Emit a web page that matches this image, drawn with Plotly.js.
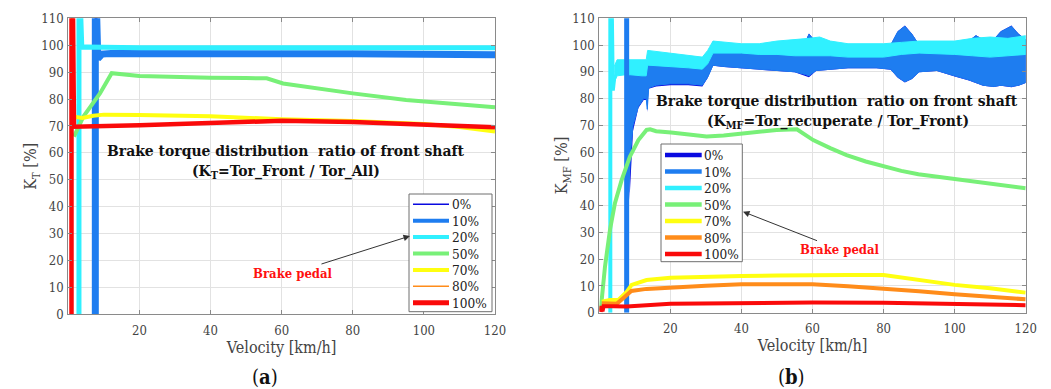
<!DOCTYPE html>
<html><head><meta charset="utf-8">
<script src="https://cdn.plot.ly/plotly-3.0.1.min.js"></script>
<style>html,body{margin:0;padding:0;background:#fff;overflow:hidden}#chart{width:1051px;height:389px}</style>
</head><body><div id="chart"></div>
<script>
// ---------- labels ----------
const pedalLabels = ['0%','10%','20%','50%','70%','80%','100%'];
const xTicks = [20,40,60,80,100,120];
const yTicks = [0,10,20,30,40,50,60,70,80,90,100,110];

// ---------- (a) K_T : front shaft ratio ----------
const a0_x   = [7.6, 7.6, 7.9, 8.3, 9.5, 12, 20, 40, 60, 80, 100, 110, 120];
const a0_y   = [0, 115, 115, 95, 96.7, 96.9, 96.8, 96.8, 96.8, 96.8, 96.7, 96.6, 96.5];
const a10_x  = [7.6, 7.6, 7.9, 8.3, 9.5, 12, 20, 40, 60, 80, 100, 110, 120];
const a10_y  = [0, 115, 115, 95, 96.7, 96.9, 96.8, 96.8, 96.8, 96.8, 96.7, 96.6, 96.5];
const a20_x  = [3.0, 3.0, 3.4, 3.8, 5, 10, 20, 40, 60, 80, 100, 120];
const a20_y  = [0, 115, 115, 99.2, 99.3, 99.2, 99.1, 99.1, 99.1, 99.1, 99.1, 99.1];
const a50_x  = [1.6, 4.2, 8.9, 12.2, 20, 30, 40, 50, 55.8, 60.4, 69.8, 80, 95, 105, 120];
const a50_y  = [66, 73.4, 82.1, 89.6, 88.6, 88.2, 87.9, 87.8, 87.7, 85.8, 84, 82.1, 79.6, 78.5, 76.9];
const a70_x  = [1.6, 4, 7, 10, 20, 40, 60, 80, 100, 110, 120];
const a70_y  = [73.4, 73.0, 73.8, 74.2, 74.1, 73.6, 72.5, 71.8, 70.7, 69.6, 67.9];
const a80_x  = [0.9, 0.9, 1.3, 1.6, 20, 40, 60, 80, 100, 120];
const a80_y  = [0, 115, 115, 69.7, 70.3, 71.2, 71.9, 71.5, 70.7, 69.5];
const a100_x = [0.9, 0.9, 1.3, 1.6, 20, 40, 60, 80, 100, 120];
const a100_y = [0, 115, 115, 69.7, 70.3, 71.2, 71.9, 71.5, 70.7, 69.5];

// ---------- (b) K_MF : recuperation ratio on front shaft ----------
// noisy bands: lower / upper envelope
const b0_x  = [8.5, 9, 9.5, 11, 12.5, 13.3, 13.5, 13.9, 16, 20, 25, 29, 30.5, 32, 35, 40, 45, 50, 55, 58, 59, 61, 65, 70, 78, 82, 84, 86, 88, 90, 95, 100, 104, 106, 108, 111, 113, 116, 118, 120];
const b0_lo = [42, 55, 68, 76.5, 79.5, 79.5, 75, 83.7, 84.5, 85, 85, 84.5, 87.7, 92.3, 91.8, 91.1, 90.8, 90.3, 89.8, 88.5, 88, 90.3, 90.8, 91.3, 91.3, 90.8, 87.8, 86, 87.3, 89.8, 90.3, 88.3, 86.8, 85.8, 84.8, 84.3, 84.8, 84.2, 84.8, 85.8];
const b0_hi = [88.2, 90.2, 91.2, 91.2, 92.2, 92.7, 93.2, 94.2, 94.2, 94.2, 93.7, 93.2, 96.2, 101.5, 99.7, 99.2, 99.2, 99.7, 100.2, 101.5, 104.3, 101.2, 99.7, 99.2, 99.2, 100.2, 105.2, 107.3, 104.2, 100.2, 100.2, 100.7, 101.7, 103.7, 102.2, 102.2, 105.2, 107.3, 104.2, 102.2];
const b10_x  = [8.3, 8.8, 9.5, 11, 12.5, 13.2, 13.5, 13.9, 16, 20, 25, 29, 30.5, 32, 35, 40, 45, 50, 55, 58, 59, 61, 65, 70, 78, 82, 84, 86, 88, 90, 95, 100, 104, 106, 108, 111, 113, 116, 118, 120];
const b10_lo = [45, 60, 70, 77, 80, 80, 76, 84, 85, 85.5, 85.5, 85, 88, 92.5, 92, 91.3, 91, 90.5, 90, 89, 88.5, 90.5, 91, 91.5, 91.5, 91, 88, 86.3, 87.5, 90, 90.5, 88.5, 87, 86, 85, 84.5, 85, 84.5, 85, 86];
const b10_hi = [88, 90, 91, 91, 92, 92.5, 93, 94, 94, 94, 93.5, 93, 96, 100, 99.5, 99, 99, 99.5, 100, 101, 104, 101, 99.5, 99, 99, 100, 105, 107, 104, 100, 100, 100.5, 101.5, 103.5, 102, 102, 105, 107, 104, 102];
const b20_x  = [4.2, 5, 8, 12, 13.2, 13.6, 20, 25, 29, 30.5, 32, 40, 45, 50, 55, 59, 62, 65, 70, 80, 85, 90, 100, 105, 110, 115, 120];
const b20_lo = [86, 88.5, 89, 88.5, 88.5, 92.5, 92, 91.5, 91, 93, 97, 97, 96.5, 96.5, 96, 96, 96, 96, 95.5, 95.5, 96.5, 97, 96.5, 96, 95.5, 96, 96.5];
const b20_hi = [92, 94.5, 94.5, 94.5, 94.5, 98, 97, 96, 95.5, 98, 101.5, 100.5, 100.5, 101.5, 102, 102.5, 103, 101.5, 100.5, 100.5, 101, 101.5, 101.5, 102.5, 103, 102.5, 103.5];
// vertical start-up spikes
const b20s_x = [3.1, 3.1, 3.5, 3.8, 4.3];
const b20s_y = [0, 115, 115, 83, 89];
const b10s_x = [7.7, 7.7];
const b10s_y = [0, 115];
// smooth curves
const b50_x  = [0.4, 1.6, 3, 4.4, 6.3, 8.6, 11, 13.3, 14.3, 16, 20.2, 25, 30.2, 35, 40, 45, 49.9, 55.6, 60.2, 65, 69.6, 75, 80, 85, 89.8, 95, 100, 110, 120];
const b50_y  = [1, 17.2, 30.9, 40.9, 49.6, 58.3, 64.5, 68.3, 68.5, 67.8, 67.3, 66.5, 65.8, 66.2, 67, 67.6, 68.3, 68.5, 64.5, 61.5, 58.9, 56.5, 54.6, 53, 51.7, 50.8, 49.9, 48.4, 46.5];
const b70_x  = [0.7, 3, 5.3, 7.7, 9.1, 13.3, 20, 30, 40, 50, 60, 70, 80, 90, 100, 110, 120];
const b70_y  = [4.1, 4.7, 4.7, 7.8, 10.4, 12.2, 13.1, 13.5, 13.7, 13.9, 14.1, 14.1, 14.1, 12.2, 10.4, 9.1, 7.5];
const b80_x  = [0.7, 4.9, 7.2, 9, 13.3, 20, 30, 40, 50, 60, 70, 80, 90, 100, 110, 120];
const b80_y  = [3.5, 3.3, 6, 8.1, 8.9, 9.5, 10.1, 10.6, 10.6, 10.6, 9.9, 9.1, 8, 6.9, 5.9, 5];
const b100_x = [0.4, 0.6, 0.9, 1.2, 4, 7.7, 20, 40, 60, 80, 100, 120];
const b100_y = [0.3, 2.5, 0.5, 2.4, 2.4, 2.3, 3.3, 3.7, 3.8, 3.7, 3.3, 2.8];

// ---------- styling ----------
const colors = ['#0a0ae0','#1e7df0','#30f0ff','#78f078','#ffff10','#ff8c1a','#fa0a0a'];
const W = 1051, H = 389;
const FONT = 'DejaVu Serif Condensed, DejaVu Serif';
const px = v => v / W;
const py = v => 1 - v / H;

function line(x, y, c, w, xa, ya) {
  return {x, y, type:'scatter', mode:'lines', line:{color:c, width:w}, xaxis:xa, yaxis:ya, showlegend:false, hoverinfo:'skip'};
}
// closed polygon between lower and upper envelope
function band(x, lo, hi, c, w, xa, ya) {
  const bx = x.concat(x.slice().reverse());
  const by = hi.concat(lo.slice().reverse());
  return {x:bx, y:by, type:'scatter', mode:'lines', fill:'toself', fillcolor:c, line:{color:c, width:w},
    xaxis:xa, yaxis:ya, showlegend:false, hoverinfo:'skip'};
}

const traces = [
  line(a0_x, a0_y, colors[0], 1.5, 'x', 'y'),
  line(a10_x, a10_y, colors[1], 7, 'x', 'y'),
  line(a20_x, a20_y, colors[2], 5, 'x', 'y'),
  line(a50_x, a50_y, colors[3], 4, 'x', 'y'),
  line(a70_x, a70_y, colors[4], 4, 'x', 'y'),
  line(a80_x, a80_y, colors[5], 1.5, 'x', 'y'),
  line(a100_x, a100_y, colors[6], 4.5, 'x', 'y'),
  band(b0_x, b0_lo, b0_hi, colors[0], 0, 'x2', 'y2'),
  band(b10_x, b10_lo, b10_hi, colors[1], 1, 'x2', 'y2'),
  band(b20_x, b20_lo, b20_hi, colors[2], 1, 'x2', 'y2'),
  line(b20s_x, b20s_y, colors[2], 4, 'x2', 'y2'),
  line(b10s_x, b10s_y, colors[1], 5, 'x2', 'y2'),
  line(b50_x, b50_y, colors[3], 4, 'x2', 'y2'),
  line(b70_x, b70_y, colors[4], 4, 'x2', 'y2'),
  line(b80_x, b80_y, colors[5], 4, 'x2', 'y2'),
  line(b100_x, b100_y, colors[6], 4, 'x2', 'y2')
];

const tickFont = {family:FONT, size:13, color:'#444'};
const titleFont = {family:FONT, size:16, color:'#444'};
function xAxis(dom, anchor) {
  return {domain:dom, anchor, range:[0,120], tickvals:xTicks, showgrid:true, gridcolor:'#e2e2e2', gridwidth:1,
    showline:true, linecolor:'#8a8a8a', linewidth:1, mirror:'ticks', ticks:'inside', ticklen:4, tickcolor:'#8a8a8a',
    zeroline:false, tickfont:tickFont, ticklabelstandoff:4,
    title:{text:'Velocity [km/h]', font:titleFont, standoff:3}, fixedrange:true};
}
function yAxis(dom, anchor, t) {
  return {domain:dom, anchor, range:[0,110], tickvals:yTicks, showgrid:true, gridcolor:'#e2e2e2', gridwidth:1,
    showline:true, linecolor:'#8a8a8a', linewidth:1, mirror:'ticks', ticks:'inside', ticklen:4, tickcolor:'#8a8a8a',
    zeroline:false, tickfont:tickFont, ticklabelstandoff:1,
    title:{text:t, font:titleFont, standoff:0}, fixedrange:true};
}

// manual legends (line samples + text)
const legendWidthsA = [1.5, 4, 4, 4, 4, 1.5, 5];
const legendWidthsB = [4.5, 4.5, 4.5, 4.5, 4.5, 4.5, 4.5];
const shapes = [];
const annotations = [];
function addLegend(box, y0, step, lx0, lx1, tx, widths) {
  shapes.push({type:'rect', xref:'paper', yref:'paper', x0:px(box[0]), x1:px(box[2]), y0:py(box[1]), y1:py(box[3]),
    fillcolor:'#ffffff', line:{color:'#6e6e6e', width:1}, layer:'above'});
  pedalLabels.forEach((lab, i) => {
    const yc = y0 + i * step;
    shapes.push({type:'line', xref:'paper', yref:'paper', x0:px(lx0), x1:px(lx1), y0:py(yc), y1:py(yc),
      line:{color:colors[i], width:widths[i]}, layer:'above'});
    annotations.push({xref:'paper', yref:'paper', x:px(tx), y:py(yc), xanchor:'left', yanchor:'middle',
      text:lab, showarrow:false, font:{family:FONT, size:13.5, color:'#222'}});
  });
}
addLegend([409,194,492,311.7], 204.3, 16.4, 413, 449, 450, legendWidthsA);
addLegend([661,144,742.3,261.7], 155, 16.5, 665, 701.7, 702, legendWidthsB);

const boldFont = {family:FONT, size:15.5, color:'#111'};
const redFont = {family:FONT, size:13, color:'#ff1010'};
annotations.push(
  {xref:'paper', yref:'paper', x:px(286), y:py(151), xanchor:'center', yanchor:'middle', showarrow:false, font:boldFont,
   text:'<b>Brake torque distribution  ratio of front shaft</b>'},
  {xref:'paper', yref:'paper', x:px(286), y:py(172), xanchor:'center', yanchor:'middle', showarrow:false, font:boldFont,
   text:'<b>(K<sub>T</sub>=Tor_Front / Tor_All)</b>'},
  {xref:'paper', yref:'paper', x:px(837), y:py(100), xanchor:'center', yanchor:'middle', showarrow:false, font:boldFont,
   text:'<b>Brake torque distribution  ratio on front shaft</b>'},
  {xref:'paper', yref:'paper', x:px(837.5), y:py(121), xanchor:'center', yanchor:'middle', showarrow:false, font:boldFont,
   text:'<b>(K<sub>MF</sub>=Tor_recuperate / Tor_Front)</b>'},
  {xref:'paper', yref:'paper', x:px(410), y:py(236), ax:-117, ay:37, showarrow:true, arrowhead:2, arrowsize:1.3, arrowwidth:1,
   arrowcolor:'#333', text:'<b>Brake pedal</b>', font:redFont},
  {xref:'paper', yref:'paper', x:px(743), y:py(211.7), ax:97, ay:38, showarrow:true, arrowhead:2, arrowsize:1.3, arrowwidth:1,
   arrowcolor:'#333', text:'<b>Brake pedal</b>', font:redFont},
  {xref:'paper', yref:'paper', x:px(265), y:py(377), xanchor:'center', yanchor:'middle', showarrow:false,
   text:'(<b>a</b>)', font:{family:FONT, size:20, color:'#111'}},
  {xref:'paper', yref:'paper', x:px(791.7), y:py(377), xanchor:'center', yanchor:'middle', showarrow:false,
   text:'(<b>b</b>)', font:{family:FONT, size:20, color:'#111'}}
);

const layout = {
  width:W, height:H, autosize:false,
  margin:{l:0, r:0, t:0, b:0, pad:0},
  paper_bgcolor:'#ffffff', plot_bgcolor:'#ffffff',
  showlegend:false,
  font:{family:FONT},
  xaxis: xAxis([px(68.3), px(495)], 'y'),
  yaxis: yAxis([py(314.3), py(18.3)], 'x', 'K<sub>T</sub> [%]'),
  xaxis2: xAxis([px(599.3), px(1025.7)], 'y2'),
  yaxis2: yAxis([py(312.7), py(18.3)], 'x2', 'K<sub>MF</sub> [%]'),
  shapes, annotations
};

Plotly.newPlot('chart', traces, layout, {staticPlot:true, displayModeBar:false});
</script></body></html>
